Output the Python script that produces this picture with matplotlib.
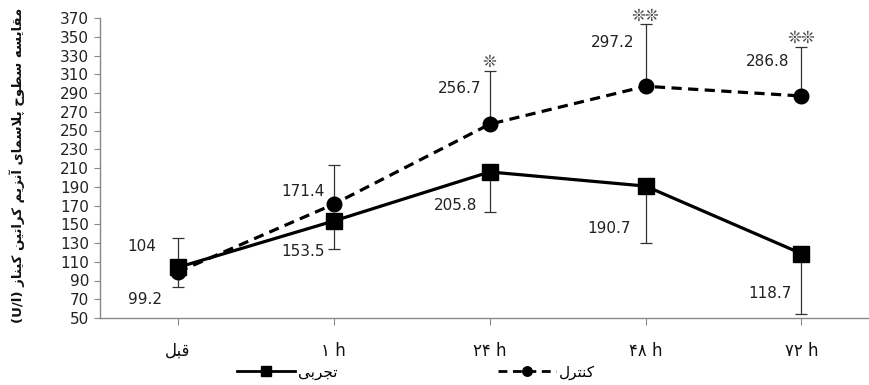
import matplotlib
matplotlib.use("Agg")
import matplotlib.pyplot as plt

# ---------------- data ----------------
categories = ["قبل", "۱ h", "۲۴ h", "۴۸ h", "۷۲ h"]
experimental = [104, 153.5, 205.8, 190.7, 118.7]
control = [99.2, 171.4, 256.7, 297.2, 286.8]
experimental_err_down = [21, 30, 43, 61, 64]
control_err_up = [36, 42, 57, 66, 52]
significance = ["", "", "❊", "❊❊", "❊❊"]
y_ticks = list(range(50, 371, 20))
label_experimental = "تجربی"
label_control = "کنترل"
y_title = "مقایسه سطوح پلاسمای آنزیم کراتین کیناز"
y_unit = "(U/l)"

# label offsets in pixels (dx, dy)
exp_label_off = [(-36, 21), (-31, -31), (-34, -34), (-36, -42), (-31, -40)]
ctl_label_off = [(-33, -28), (-31, 13), (-30, 36), (-33, 44), (-34, 34)]

# ---------------- simple Arabic/Persian shaping ----------------
FORMS = {
    '\u0627': ('\uFE8D', '\uFE8E', None, None),
    '\u0622': ('\uFE81', '\uFE82', None, None),
    '\u0628': ('\uFE8F', '\uFE90', '\uFE91', '\uFE92'),
    '\u067E': ('\uFB56', '\uFB57', '\uFB58', '\uFB59'),
    '\u062A': ('\uFE95', '\uFE96', '\uFE97', '\uFE98'),
    '\u062C': ('\uFE9D', '\uFE9E', '\uFE9F', '\uFEA0'),
    '\u062D': ('\uFEA1', '\uFEA2', '\uFEA3', '\uFEA4'),
    '\u0631': ('\uFEAD', '\uFEAE', None, None),
    '\u0632': ('\uFEAF', '\uFEB0', None, None),
    '\u0633': ('\uFEB1', '\uFEB2', '\uFEB3', '\uFEB4'),
    '\u0637': ('\uFEC1', '\uFEC2', '\uFEC3', '\uFEC4'),
    '\u0642': ('\uFED5', '\uFED6', '\uFED7', '\uFED8'),
    '\u06A9': ('\uFB8E', '\uFB8F', '\uFB90', '\uFB91'),
    '\u0644': ('\uFEDD', '\uFEDE', '\uFEDF', '\uFEE0'),
    '\u0645': ('\uFEE1', '\uFEE2', '\uFEE3', '\uFEE4'),
    '\u0646': ('\uFEE5', '\uFEE6', '\uFEE7', '\uFEE8'),
    '\u0647': ('\uFEE9', '\uFEEA', '\uFEEB', '\uFEEC'),
    '\u0648': ('\uFEED', '\uFEEE', None, None),
    '\u06CC': ('\uFBFC', '\uFBFD', '\uFBFE', '\uFBFF'),
}
LAMALEF = {'\u0627': ('\uFEFB', '\uFEFC'), '\u0622': ('\uFEF5', '\uFEF6')}


def shape(text):
    chars = []
    i = 0
    while i < len(text):
        c = text[i]
        if c == '\u0644' and i + 1 < len(text) and text[i + 1] in LAMALEF:
            chars.append(('LA', text[i + 1]))
            i += 2
        else:
            chars.append(('C', c))
            i += 1

    def dual(item):
        kind, c = item
        if kind == 'LA':
            return False
        f = FORMS.get(c)
        return f is not None and f[2] is not None

    def joins(item):
        kind, c = item
        return kind == 'LA' or c in FORMS

    out = []
    for k, item in enumerate(chars):
        kind, c = item
        prev_conn = k > 0 and dual(chars[k - 1]) and joins(item)
        if kind == 'LA':
            out.append(LAMALEF[c][1] if prev_conn else LAMALEF[c][0])
            continue
        if c not in FORMS:
            out.append(c)
            continue
        f = FORMS[c]
        next_conn = f[2] is not None and k + 1 < len(chars) and joins(chars[k + 1])
        if prev_conn and next_conn:
            out.append(f[3])
        elif prev_conn:
            out.append(f[1])
        elif next_conn:
            out.append(f[2])
        else:
            out.append(f[0])
    return ''.join(out)[::-1]


def visual(text):
    if any(ch in FORMS for ch in text):
        return shape(text)
    return text


plt.rcParams['font.family'] = ['DejaVu Sans']

fig = plt.figure(figsize=(8.7, 3.85), dpi=100)
ax = fig.add_axes([100 / 870, 1 - 318 / 385, 770 / 870, 300 / 385])

x = list(range(len(categories)))

# error bars
ax.errorbar(x, control, yerr=[[0] * len(control), control_err_up], fmt='none',
            ecolor='#333333', elinewidth=0.9, capsize=4.5, capthick=0.9, zorder=1)
ax.errorbar(x, experimental, yerr=[experimental_err_down, [0] * len(experimental)], fmt='none',
            ecolor='#333333', elinewidth=0.9, capsize=4.5, capthick=0.9, zorder=1)

# lines
ax.plot(x, experimental, color='black', lw=2.3, marker='s', markersize=12,
        label=shape(label_experimental), zorder=3)
ax.plot(x, control, color='black', lw=2.3, ls=(0, (3.2, 2.0)), marker='o', markersize=10.5,
        label=shape(label_control), zorder=3)

px2pt = 72 / 100
for xi, v, off in zip(x, experimental, exp_label_off):
    ax.annotate(f"{v:g}", (xi, v), xytext=(off[0] * px2pt, off[1] * px2pt),
                textcoords='offset points', ha='center', va='center', fontsize=11, color='#222222')
for xi, v, off in zip(x, control, ctl_label_off):
    ax.annotate(f"{v:g}", (xi, v), xytext=(off[0] * px2pt, off[1] * px2pt),
                textcoords='offset points', ha='center', va='center', fontsize=11, color='#222222')

for xi, v, e, s in zip(x, control, control_err_up, significance):
    if s:
        ax.annotate(s, (xi, v + e), xytext=(0, 9 * px2pt), textcoords='offset points',
                    ha='center', va='center', fontsize=12, color='#444444')

ax.set_xlim(-0.5, 4.44)
ax.set_ylim(50, 370)
ax.set_yticks(y_ticks)
ax.set_yticklabels([str(t) for t in y_ticks], fontsize=11, color='#222222')
ax.set_xticks(x)
ax.set_xticklabels([visual(c) for c in categories], fontsize=12, color='#111111')
ax.tick_params(axis='x', length=5, pad=12, color='#888888')
ax.tick_params(axis='y', length=4, pad=4, color='#888888')

for s in ['top', 'right']:
    ax.spines[s].set_visible(False)
for s in ['left', 'bottom']:
    ax.spines[s].set_color('#888888')
    ax.spines[s].set_linewidth(1.0)

fig.text(17 / 870, 1 - 165 / 385, y_unit + " " + shape(y_title), rotation=90,
         ha='center', va='center', fontsize=9.5, fontweight='bold', color='#111111')

leg = fig.legend(loc='center', bbox_to_anchor=(416 / 870, 1 - 372 / 385), ncol=2, frameon=False,
                 fontsize=11, handlelength=3.8, columnspacing=10.5, handletextpad=0.2,
                 borderpad=0, borderaxespad=0, markerscale=0.65)
for line in leg.get_lines():
    line.set_linewidth(2.0)

fig.savefig("out.png", dpi=100)
